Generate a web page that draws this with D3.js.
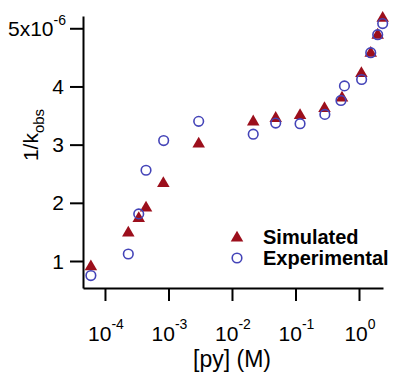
<!DOCTYPE html>
<html>
<head>
<meta charset="utf-8">
<script src="https://cdn.jsdelivr.net/npm/d3@7"></script>
<style>
  body { margin: 0; background: #fff; }
  svg { display: block; font-family: 'Liberation Sans', Arial, sans-serif; }
</style>
</head>
<body>
<svg id="chart" width="394" height="375"></svg>
<script>
// [py] (M) values and 1/kobs (x10^-6)
const simPy = [6.0e-5, 2.33e-4, 3.4e-4, 4.43e-4, 8.3e-4, 2.99e-3, 0.0216, 0.0488, 0.118, 0.286, 0.54, 1.09, 1.53, 1.97, 2.36]
const simK = [0.92, 1.5, 1.75, 1.93, 2.35, 3.03, 3.41, 3.47, 3.52, 3.64, 3.82, 4.24, 4.59, 4.9, 5.19]
const expPy = [6.0e-5, 2.33e-4, 3.4e-4, 4.43e-4, 8.4e-4, 2.99e-3, 0.0216, 0.0488, 0.118, 0.29, 0.52, 0.59, 1.1, 1.53, 1.97, 2.36]
const expK = [0.75, 1.12, 1.81, 2.56, 3.07, 3.4, 3.18, 3.37, 3.36, 3.52, 3.76, 4.01, 4.12, 4.58, 4.89, 5.08]

const xTicks = [1e-4, 1e-3, 1e-2, 1e-1, 1]
const xTickExp = ['-4', '-3', '-2', '-1', '0']
const yTicks = [1, 2, 3, 4, 5]
const yTickLabels = ['1', '2', '3', '4', '5x10']

const simColor = '#9c0f1c'
const expColor = '#4444b8'

const svg = d3.select('#chart')
const x = d3.scaleLog().domain([Math.pow(10, -4.346), Math.pow(10, 0.378)]).range([83, 383])
const y = d3.scaleLinear().domain([0.536, 5.211]).range([288, 16])

// axes
const gx = svg.append('g').attr('transform', 'translate(0,288)')
  .call(d3.axisBottom(x).tickValues(xTicks).tickSize(13).tickSizeOuter(0).tickFormat(''))
const gy = svg.append('g').attr('transform', 'translate(83,0)')
  .call(d3.axisLeft(y).tickValues(yTicks).tickSize(13).tickSizeOuter(0).tickFormat(''))
svg.selectAll('.domain, .tick line').attr('stroke', '#000').attr('stroke-width', 2)

// x tick labels with superscripts
const xl = svg.append('g').attr('font-size', 21).attr('text-anchor', 'middle')
xTicks.forEach((t, i) => {
  const txt = xl.append('text').attr('x', x(t) + 1).attr('y', 341)
  txt.append('tspan').text('10')
  txt.append('tspan').attr('dy', -12).attr('font-size', 14).text(xTickExp[i])
})

// y tick labels
const yl = svg.append('g').attr('font-size', 21).attr('text-anchor', 'end')
yTicks.forEach((t, i) => {
  const txt = yl.append('text').attr('x', i === 4 ? 66 : 64).attr('y', y(t) + 7.5)
  txt.append('tspan').text(yTickLabels[i])
  if (i === 4) txt.append('tspan').attr('dy', -11).attr('font-size', 14).text('-6')
})

// axis titles
svg.append('text').attr('x', 232).attr('y', 367).attr('text-anchor', 'middle')
  .attr('font-size', 23).text('[py] (M)')
const yt = svg.append('text').attr('transform', 'translate(38,135) rotate(-90)')
  .attr('text-anchor', 'middle').attr('font-size', 21)
yt.append('tspan').text('1/k')
yt.append('tspan').attr('dy', 6).attr('font-size', 15).text('obs')

// markers
const tri = d3.symbol().type(d3.symbolTriangle).size(68)

svg.append('g').selectAll('path')
  .data(d3.zip(simPy, simK))
  .join('path')
  .attr('d', tri)
  .attr('transform', d => `translate(${x(d[0])},${y(d[1]) + 1})`)
  .attr('fill', simColor)

svg.append('g').selectAll('circle')
  .data(d3.zip(expPy, expK))
  .join('circle')
  .attr('cx', d => x(d[0]))
  .attr('cy', d => y(d[1]))
  .attr('r', 4.8)
  .attr('fill', 'none')
  .attr('stroke', expColor)
  .attr('stroke-width', 1.6)

// legend
const lg = svg.append('g').attr('font-size', 20).attr('font-weight', 'bold')
lg.append('path').attr('d', tri).attr('transform', 'translate(237,238)').attr('fill', simColor)
lg.append('circle').attr('cx', 237).attr('cy', 258).attr('r', 4.8)
  .attr('fill', 'none').attr('stroke', expColor).attr('stroke-width', 1.6)
lg.append('text').attr('x', 263).attr('y', 244).text('Simulated')
lg.append('text').attr('x', 263).attr('y', 265).text('Experimental')
</script>
</body>
</html>
